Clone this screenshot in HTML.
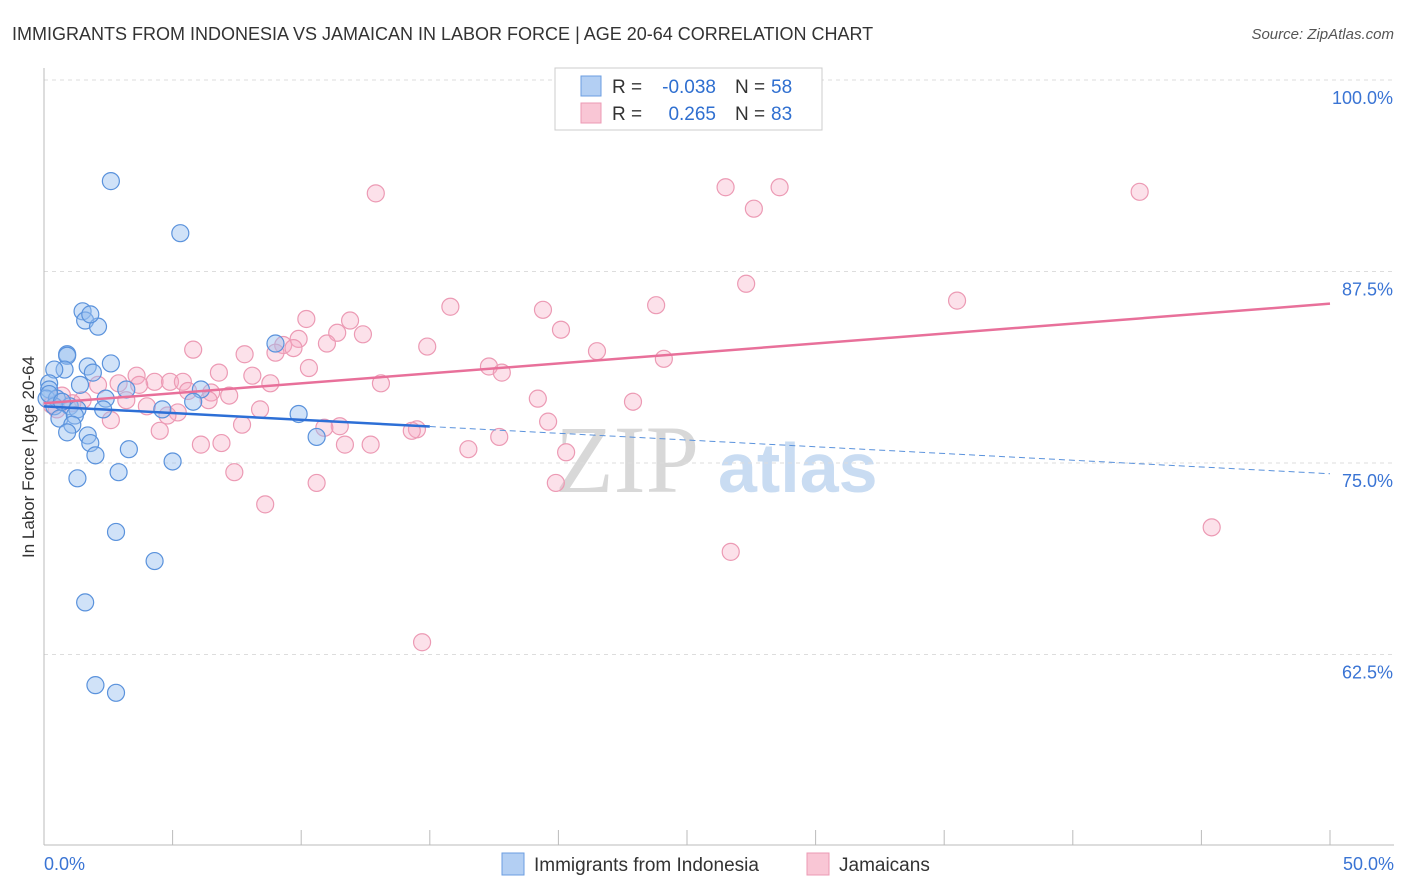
<!DOCTYPE html>
<html><head><meta charset="utf-8"><style>
body{margin:0;background:#fff;font-family:"Liberation Sans",sans-serif;}
svg{display:block}
</style></head><body>
<svg id="chart" width="1406" height="892">
<text x="12" y="40" font-size="18" fill="#333">IMMIGRANTS FROM INDONESIA VS JAMAICAN IN LABOR FORCE | AGE 20-64 CORRELATION CHART</text>
<text x="1394" y="39" font-size="15" fill="#555" font-style="italic" text-anchor="end">Source: ZipAtlas.com</text>
<text transform="translate(34,457) rotate(-90)" font-size="17" fill="#333" text-anchor="middle">In Labor Force | Age 20-64</text>
<g><text x="555" y="492" font-size="96" fill="#d8d8d8" font-family="Liberation Serif,serif">ZIP</text><text x="718" y="492" font-size="70" fill="#c9dcf2" font-weight="bold">atlas</text></g>
<g id="grid"></g><g id="axes"></g><g id="marks"></g>
<g>
<rect x="555" y="68" width="267" height="62" fill="#fff" stroke="#ccc"/>
<rect x="581" y="76" width="20" height="20" fill="#b3cff3" stroke="#6b9ee0"/>
<rect x="581" y="103" width="20" height="20" fill="#f9c6d5" stroke="#ec9ab4"/>
<text x="612" y="93" font-size="19" fill="#333">R =</text>
<text x="716" y="93" font-size="19" fill="#2f6fd0" text-anchor="end">-0.038</text>
<text x="735" y="93" font-size="19" fill="#333">N =</text>
<text x="771" y="93" font-size="19" fill="#2f6fd0">58</text>
<text x="612" y="120" font-size="19" fill="#333">R =</text>
<text x="716" y="120" font-size="19" fill="#2f6fd0" text-anchor="end">0.265</text>
<text x="735" y="120" font-size="19" fill="#333">N =</text>
<text x="771" y="120" font-size="19" fill="#2f6fd0">83</text>
</g>
<g>
<rect x="502" y="853" width="22" height="22" fill="#b3cff3" stroke="#6b9ee0"/>
<text x="534" y="871" font-size="19" fill="#333">Immigrants from Indonesia</text>
<rect x="807" y="853" width="22" height="22" fill="#f9c6d5" stroke="#ec9ab4"/>
<text x="839" y="871" font-size="19" fill="#333">Jamaicans</text>
</g>
</svg>
<script>
const yTicks=[100,87.5,75,62.5];
const yTickLabels=["100.0%","87.5%","75.0%","62.5%"];
const xTickLabels=["0.0%","50.0%"];
const blueX=[2.6,5.3,1.5,1.6,2.1,1.8,0.9,0.9,2.6,1.7,0.8,0.4,1.9,1.4,0.2,0.2,3.2,6.1,9.0,0.1,0.5,2.4,5.8,1.0,0.4,1.3,2.3,4.6,9.9,0.6,1.2,1.1,0.9,1.7,1.8,10.6,3.3,2.0,5.0,2.9,1.3,2.8,4.3,1.6,2.0,2.8,0.2,0.7];
const blueY=[93.4,90.0,84.9,84.3,83.9,84.7,82.1,82.0,81.5,81.3,81.1,81.1,80.9,80.1,80.2,79.8,79.8,79.8,82.8,79.2,79.2,79.2,79.0,78.7,78.7,78.5,78.5,78.5,78.2,77.9,78.1,77.5,77.0,76.8,76.3,76.7,75.9,75.5,75.1,74.4,74.0,70.5,68.6,65.9,60.5,60.0,79.5,79.0];
const pinkX=[12.9,26.5,28.6,27.6,42.6,27.3,35.5,23.8,15.8,19.4,10.2,11.9,20.1,11.4,12.4,9.9,11.0,9.3,9.7,14.9,5.8,21.5,7.8,9.0,24.1,17.3,10.3,17.8,6.8,3.6,8.1,4.3,4.9,5.4,8.8,13.1,2.9,2.1,3.7,6.5,5.6,7.2,19.2,22.9,3.2,1.5,0.7,6.4,1.1,4.0,8.4,5.2,4.8,2.6,19.6,7.7,11.5,10.9,14.5,14.3,4.5,17.7,6.1,6.9,11.7,12.7,16.5,20.3,7.4,10.6,19.9,8.6,45.4,26.7,14.7,0.3,0.5];
const pinkY=[92.6,93.0,93.0,91.6,92.7,86.7,85.6,85.3,85.2,85.0,84.4,84.3,83.7,83.5,83.4,83.1,82.8,82.7,82.5,82.6,82.4,82.3,82.1,82.2,81.8,81.3,81.2,80.9,80.9,80.7,80.7,80.3,80.3,80.3,80.2,80.2,80.2,80.1,80.1,79.6,79.7,79.4,79.2,79.0,79.1,79.1,79.4,79.1,78.9,78.7,78.5,78.3,78.1,77.8,77.7,77.5,77.4,77.3,77.2,77.1,77.1,76.7,76.2,76.3,76.2,76.2,75.9,75.7,74.4,73.7,73.7,72.3,70.8,69.2,63.3,78.8,78.5];
const blueTrend=[78.7,74.3];
const pinkTrend=[78.9,85.4];
const NS="http://www.w3.org/2000/svg";
const xs=v=>44+v/50*1286;
const ys=v=>80+(100-v)/12.5*191.5;
function mk(tag,attrs,parent){const e=document.createElementNS(NS,tag);for(const k in attrs)e.setAttribute(k,attrs[k]);parent.appendChild(e);return e;}
const grid=document.getElementById('grid'),axes=document.getElementById('axes'),marks=document.getElementById('marks');
yTicks.forEach((t,i)=>{
 const l=mk('line',{x1:44,x2:1394,y1:ys(t),y2:ys(t),stroke:'#ddd','stroke-dasharray':'4,4'},grid);
 
 
 const tx=mk('text',{x:1393,y:ys(t)+24,'font-size':18,fill:'#3a74d4','text-anchor':'end'},axes);
 tx.textContent=yTickLabels[i];
 
 
});
mk('line',{x1:44,x2:44,y1:68,y2:845,stroke:'#bbb'},axes);
mk('line',{x1:44,x2:1394,y1:845,y2:845,stroke:'#bbb'},axes);
for(let i=0;i<=10;i++){mk('line',{x1:xs(i*5),x2:xs(i*5),y1:830,y2:845,stroke:'#bbb'},axes);}
const xl0=mk('text',{x:44,y:870,'font-size':18,fill:'#3a74d4'},axes);xl0.textContent=xTickLabels[0];


const xl1=mk('text',{x:1394,y:870,'font-size':18,fill:'#3a74d4','text-anchor':'end'},axes);xl1.textContent=xTickLabels[1];


pinkX.forEach((x,i)=>{const c=mk('circle',{cx:xs(x),cy:ys(pinkY[i]),r:8.5,fill:'rgba(245,170,195,0.35)',stroke:'#ec9ab4','stroke-width':1.2},marks);
 
 });
blueX.forEach((x,i)=>{const c=mk('circle',{cx:xs(x),cy:ys(blueY[i]),r:8.5,fill:'rgba(150,190,240,0.45)',stroke:'#5a92dc','stroke-width':1.2},marks);
 
 });
const bAt=x=>blueTrend[0]+(blueTrend[1]-blueTrend[0])*x/50;
const bt=mk('line',{x1:xs(0),y1:ys(bAt(0)),x2:xs(15),y2:ys(bAt(15)),stroke:'#2d6fd6','stroke-width':2.5},marks);


const bd=mk('line',{x1:xs(15),y1:ys(bAt(15)),x2:xs(50),y2:ys(bAt(50)),stroke:'#5a92dc','stroke-width':1,'stroke-dasharray':'6,4'},marks);


const pt=mk('line',{x1:xs(0),y1:ys(pinkTrend[0]),x2:xs(50),y2:ys(pinkTrend[1]),stroke:'#e8709a','stroke-width':2.5},marks);


</script>
</body></html>
